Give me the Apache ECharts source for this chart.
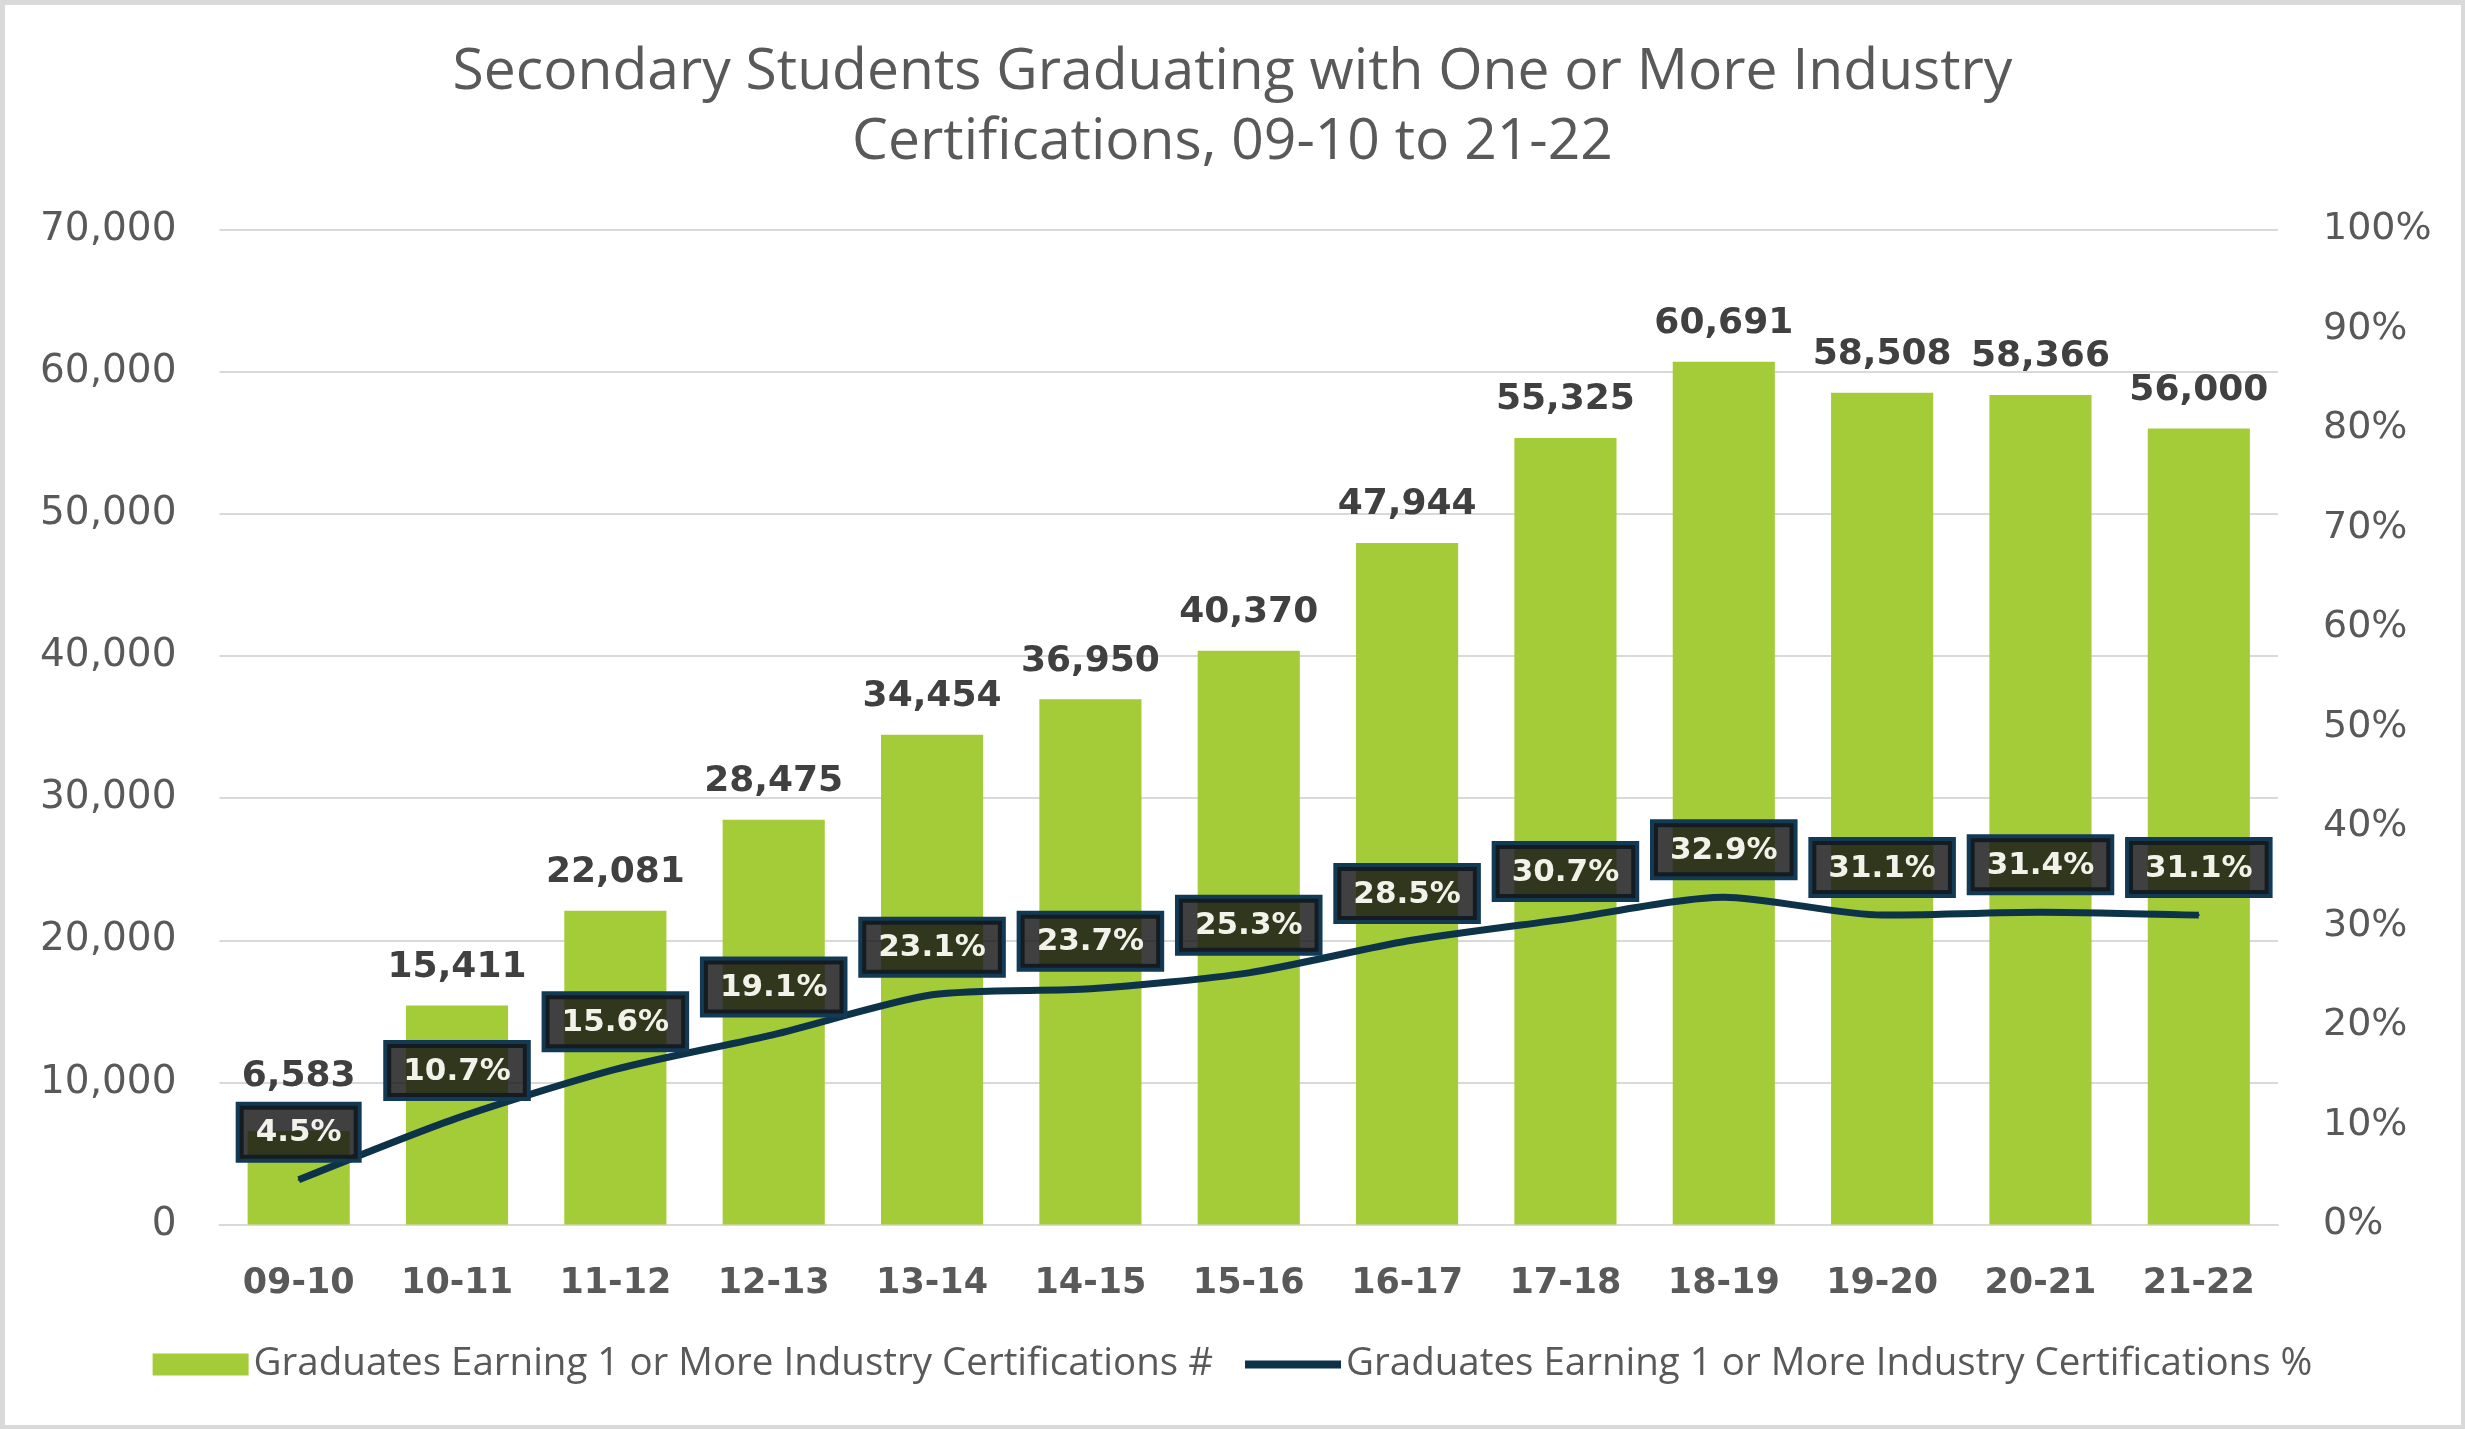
<!DOCTYPE html>
<html>
<head>
<meta charset="utf-8">
<script src="https://cdn.jsdelivr.net/npm/echarts@6/dist/echarts.min.js"></script>
<style>
html,body{margin:0;padding:0;background:#fff;}
#chart{width:2465px;height:1429px;}
</style>
</head>
<body>
<div id="chart"></div>
<script>
const categories = ['09-10','10-11','11-12','12-13','13-14','14-15','15-16','16-17','17-18','18-19','19-20','20-21','21-22'];
const gradCounts = [6583, 15411, 22081, 28475, 34454, 36950, 40370, 47944, 55325, 60691, 58508, 58366, 56000];
const gradPercents = [4.5, 10.7, 15.6, 19.1, 23.1, 23.7, 25.3, 28.5, 30.7, 32.9, 31.1, 31.4, 31.1];
const leftTicks = {min: 0, max: 70000, interval: 10000};
const rightTicks = {min: 0, max: 100, interval: 10};
const seriesNames = ['Graduates Earning 1 or More Industry Certifications #', 'Graduates Earning 1 or More Industry Certifications %'];
const titleText = 'Secondary Students Graduating with One or More Industry\nCertifications, 09-10 to 21-22';

const chart = echarts.init(document.getElementById('chart'), null, {renderer: 'canvas'});
const axisFont = 'DejaVu Sans';
const barData = gradCounts.map((v, i) => i === 0 ? {value: v, label: {offset: [0, -16]}} : v);

chart.setOption({
  backgroundColor: '#ffffff',
  animation: false,
  graphic: [{
    type: 'rect', left: 0, top: 0, z: -10,
    shape: {x: 2, y: 2, width: 2461, height: 1425},
    style: {fill: 'none', stroke: '#d9d9d9', lineWidth: 5}
  }],
  title: {
    text: titleText,
    left: 'center',
    top: 33,
    textStyle: {fontFamily: 'Open Sans', fontWeight: 'normal', fontSize: 57, lineHeight: 70, color: '#595959'}
  },
  legend: {
    bottom: 40,
    left: 'center',
    itemGap: 28,
    itemWidth: 96,
    itemHeight: 22,
    textStyle: {fontFamily: 'Open Sans', fontSize: 38.5, color: '#595959'},
    data: [
      {name: seriesNames[0], icon: 'rect'},
      {name: seriesNames[1], itemStyle: {opacity: 0}, lineStyle: {width: 8, color: '#0d3349'}}
    ]
  },
  grid: {left: 219.5, right: 187, top: 229.5, bottom: 204.4, containLabel: false},
  xAxis: {
    type: 'category',
    data: categories,
    axisTick: {show: false},
    axisLine: {lineStyle: {color: '#d9d9d9', width: 2}},
    axisLabel: {fontFamily: axisFont, fontWeight: 'bold', fontSize: 35, color: '#595959', margin: 42}
  },
  yAxis: [{
    type: 'value',
    min: leftTicks.min, max: leftTicks.max, interval: leftTicks.interval,
    axisLine: {show: false}, axisTick: {show: false},
    splitLine: {lineStyle: {color: '#d9d9d9', width: 2}},
    axisLabel: {fontFamily: axisFont, fontSize: 39, color: '#595959', margin: 43,
      formatter: v => v.toLocaleString('en-US')}
  }, {
    type: 'value',
    min: rightTicks.min, max: rightTicks.max, interval: rightTicks.interval,
    axisLine: {show: false}, axisTick: {show: false},
    splitLine: {show: false},
    axisLabel: {fontFamily: axisFont, fontSize: 38, color: '#595959', margin: 45,
      formatter: v => v + '%'}
  }],
  series: [{
    name: seriesNames[0],
    type: 'bar',
    data: barData,
    barWidth: '64.5%',
    itemStyle: {color: '#a4cc39'},
    label: {
      show: true, position: 'top', distance: 20,
      fontFamily: axisFont, fontWeight: 'bold', fontSize: 36, color: '#404040',
      formatter: p => p.value.toLocaleString('en-US')
    },
    z: 2
  }, {
    name: seriesNames[1],
    type: 'line',
    yAxisIndex: 1,
    data: gradPercents,
    smooth: 0.25,
    symbol: 'circle',
    symbolSize: 2,
    showSymbol: true,
    lineStyle: {color: '#0d3349', width: 7},
    itemStyle: {color: '#0d3349'},
    label: {
      show: true, position: 'top', distance: 20,
      fontFamily: axisFont, fontWeight: 'bold', fontSize: 31, color: '#f2f2ea',
      backgroundColor: 'rgba(22,22,22,0.82)',
      borderColor: '#123a55', borderWidth: 4,
      padding: [12, 16, 10, 16],
      formatter: p => p.value.toFixed(1) + '%'
    },
    z: 5
  }]
});
</script>
</body>
</html>
